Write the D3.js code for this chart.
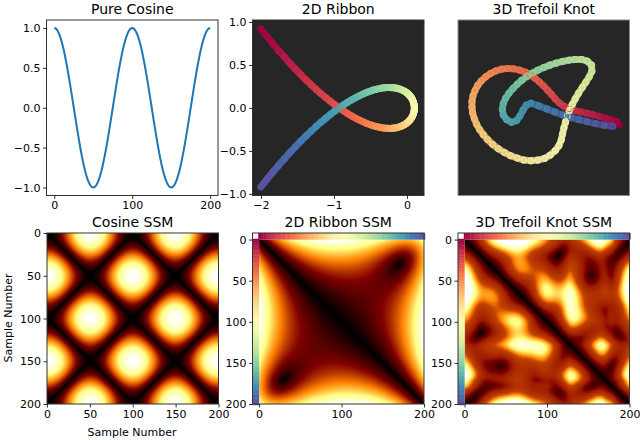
<!DOCTYPE html>
<html>
<head>
<meta charset="utf-8">
<script src="https://d3js.org/d3.v7.min.js"></script>
<style>
  html, body { margin: 0; padding: 0; background: #fff; }
  text { font-family: "DejaVu Sans", sans-serif; fill: #000; }
</style>
</head>
<body>
<div id="chart"></div>
<script>
// one reading every 2 samples, sample 0 to 200
var sampleStep = 2;

var cosineY = [1,.992,.969,.93,.876,.809,.729,.637,.536,.426,.309,.187,.063,-.063,-.187,-.309,-.426,-.536,-.637,-.729,-.809,-.876,-.93,-.969,-.992,-1,
  -.992,-.969,-.93,-.876,-.809,-.729,-.637,-.536,-.426,-.309,-.187,-.063,.063,.187,.309,.426,.536,.637,.729,.809,.876,.93,.969,.992,1,
  .992,.969,.93,.876,.809,.729,.637,.536,.426,.309,.187,.063,-.063,-.187,-.309,-.426,-.536,-.637,-.729,-.809,-.876,-.93,-.969,-.992,-1,
  -.992,-.969,-.93,-.876,-.809,-.729,-.637,-.536,-.426,-.309,-.187,-.063,.063,.187,.309,.426,.536,.637,.729,.809,.876,.93,.969,.992,1];

var ribbonX = [-2,-1.917,-1.835,-1.756,-1.677,-1.601,-1.526,-1.453,-1.382,-1.312,-1.244,-1.178,-1.113,-1.05,-.989,-.929,-.871,-.815,-.76,-.707,-.656,-.606,-.559,-.512,-.468,-.425,-.384,-.344,-.307,-.27,-.236,-.203,-.172,-.143,-.115,-.089,-.065,-.042,-.021,-.002,.016,.032,.046,.059,.07,.079,.087,.092,.097,.099,.1,
  .099,.097,.092,.087,.079,.07,.059,.046,.032,.016,-.002,-.021,-.042,-.065,-.089,-.115,-.143,-.172,-.203,-.236,-.27,-.307,-.344,-.384,-.425,-.468,-.512,-.559,-.606,-.656,-.707,-.76,-.815,-.871,-.929,-.989,-1.05,-1.113,-1.178,-1.244,-1.312,-1.382,-1.453,-1.526,-1.601,-1.677,-1.756,-1.835,-1.917,-2];
var ribbonY = [.918,.83,.746,.666,.59,.518,.45,.386,.326,.269,.216,.166,.12,.077,.037,0,-.034,-.065,-.093,-.118,-.14,-.16,-.178,-.193,-.206,-.216,-.224,-.231,-.235,-.237,-.238,-.236,-.234,-.229,-.223,-.216,-.207,-.198,-.187,-.175,-.162,-.148,-.134,-.119,-.104,-.086,-.07,-.053,-.035,-.018,0,
  .018,.035,.053,.07,.086,.104,.119,.134,.148,.162,.175,.187,.198,.207,.216,.223,.229,.234,.236,.238,.237,.235,.231,.224,.216,.206,.193,.178,.16,.14,.118,.093,.065,.034,0,-.037,-.077,-.12,-.166,-.216,-.269,-.326,-.386,-.45,-.518,-.59,-.666,-.746,-.83,-.918];

var trefoilX = [2.28,2.2,2.02,1.85,1.67,1.48,1.3,1.12,.94,.77,.61,.47,.35,.24,.12,0,-.13,-.26,-.4,-.55,-.72,-.9,-1.08,-1.26,-1.43,-1.59,-1.74,-1.87,-1.98,-2.06,-2.12,-2.15,-2.15,-2.13,-2.08,-2.01,-1.92,-1.81,-1.68,-1.53,-1.36,-1.18,-.99,-.79,-.59,-.38,-.17,.03,.2,.35,.46,.53,.57,.61,.66,.71,.78,.86,.95,1.05,1.16,1.27,1.37,1.45,1.44,1.31,1.14,.95,.76,.57,.38,.19,.01,-.17,-.34,-.5,-.65,-.79,-.92,-1.04,-1.14,-1.21,-1.24,-1.21,-1.11,-.96,-.81,-.71,-.62,-.52,-.38,-.14,.1,.34,.58,.82,1.06,1.31,1.56,1.82,2.08];
var trefoilY = [-.52,-.42,-.36,-.31,-.26,-.21,-.17,-.13,-.09,-.04,.04,.14,.26,.39,.52,.65,.77,.88,.98,1.06,1.12,1.16,1.17,1.15,1.1,1.02,.92,.8,.66,.51,.35,.18,.01,-.16,-.33,-.5,-.66,-.81,-.96,-1.1,-1.23,-1.34,-1.44,-1.51,-1.57,-1.59,-1.57,-1.52,-1.42,-1.29,-1.14,-.97,-.79,-.61,-.43,-.25,-.08,.09,.26,.43,.6,.76,.92,1.09,1.27,1.39,1.44,1.44,1.42,1.38,1.33,1.27,1.2,1.12,1.03,.93,.82,.7,.57,.43,.28,.12,-.05,-.22,-.36,-.44,-.39,-.25,-.08,.07,.13,.05,-.04,-.13,-.22,-.29,-.36,-.42,-.48,-.53,-.56];
// depth of the knot, not visible in the top panel, guessed from the SSM
var trefoilZ = [1,.98,.93,.84,.73,.59,.43,.25,.06,-.13,-.31,-.48,-.64,-.77,-.88,-.95,-.99,-1,-.97,-.91,-.81,-.69,-.54,-.37,-.19,0,.19,.37,.54,.69,.81,.91,.97,1,.99,.95,.88,.77,.64,.48,.31,.13,-.06,-.25,-.43,-.59,-.73,-.84,-.93,-.98,-1,
  -.98,-.93,-.84,-.73,-.59,-.43,-.25,-.06,.13,.31,.48,.64,.77,.88,.95,.99,1,.97,.91,.81,.69,.54,.37,.19,0,-.19,-.37,-.54,-.69,-.81,-.91,-.97,-1,-.99,-.95,-.88,-.77,-.64,-.48,-.31,-.13,.06,.25,.43,.59,.73,.84,.93,.98,1];

var ssmTicks = [0, 50, 100, 150, 200];
var sampleTicks = [0, 100, 200];

var svg = d3.select("#chart").append("svg").attr("width", 640).attr("height", 440);

var samples = d3.range(cosineY.length).map(function(i) { return i * sampleStep; });

// matplotlib afmhot
var afmhot = d3.scaleLinear()
  .domain([0, .25, .5, .75, 1])
  .range(["#000000", "#800000", "#ff8000", "#ffff80", "#ffffff"])
  .clamp(true);

function addPanel(left, right, top, bottom, title) {
  var g = svg.append("g");
  g.append("text").attr("x", (left + right) / 2).attr("y", top - 6.5)
    .attr("text-anchor", "middle").attr("font-size", 14).text(title);
  return g;
}

function addBorder(g, left, right, top, bottom, color) {
  g.append("rect").attr("x", left).attr("y", top)
    .attr("width", right - left).attr("height", bottom - top)
    .attr("fill", "none").attr("stroke", color).attr("stroke-width", 1);
}

function addAxes(g, x, y, top, bottom, left, xTicks, yTicks, xFmt, yFmt) {
  var ax = g.append("g").attr("transform", "translate(0," + bottom + ")")
    .call(d3.axisBottom(x).tickValues(xTicks).tickSize(3.5).tickPadding(2.5).tickFormat(xFmt));
  var ay = g.append("g").attr("transform", "translate(" + left + ",0)")
    .call(d3.axisLeft(y).tickValues(yTicks).tickSize(3.5).tickPadding(2.5).tickFormat(yFmt));
  [ax, ay].forEach(function(a) {
    a.select(".domain").remove();
    a.selectAll("text").attr("font-size", 11).attr("font-family", "DejaVu Sans");
    a.selectAll("line").attr("stroke-width", .8);
  });
}

// pure cosine
(function() {
  var g = addPanel(46.5, 218, 20, 195.5, "Pure Cosine");
  var x = d3.scaleLinear().domain([-10, 210]).range([46.5, 218]);
  var y = d3.scaleLinear().domain([-1.1, 1.1]).range([195.5, 20]);
  g.append("path").datum(cosineY)
    .attr("fill", "none").attr("stroke", "#1f77b4").attr("stroke-width", 2)
    .attr("d", d3.line().x(function(d, i) { return x(samples[i]); }).y(function(d) { return y(d); }).curve(d3.curveCatmullRom));
  addBorder(g, 46.5, 218, 20, 195.5, "#333");
  addAxes(g, x, y, 20, 195.5, 46.5, sampleTicks, [-1, -.5, 0, .5, 1], d3.format("d"), d3.format(".1f"));
})();

function drawCurve(g, xs, ys, x, y, ringOpacity, lineOpacity) {
  var color = function(i) { return d3.interpolateSpectral(samples[i] / 200); };
  var seg = d3.line().x(function(i) { return x(xs[i]); }).y(function(i) { return y(ys[i]); });
  var idx = d3.range(xs.length);
  g.append("g").selectAll("path").data(idx.slice(0, -1)).join("path")
    .attr("d", function(i) { return seg([i, i + 1]); })
    .attr("fill", "none").attr("stroke-width", 7).attr("stroke-linecap", "round")
    .attr("stroke-opacity", lineOpacity)
    .attr("stroke", function(i) { return color(i); });
  g.append("g").selectAll("circle").data(idx).join("circle")
    .attr("cx", function(i) { return x(xs[i]); })
    .attr("cy", function(i) { return y(ys[i]); })
    .attr("r", 2.8).attr("fill", "none").attr("stroke-width", 1.2)
    .attr("stroke-opacity", ringOpacity)
    .attr("stroke", function(i) { return color(i); });
}

// 2D ribbon
(function() {
  var g = addPanel(252.5, 424, 20, 195.5, "2D Ribbon");
  var x = d3.scaleLinear().domain([-2.115, .232]).range([252.5, 424]);
  var y = d3.scaleLinear().domain([-1.019, 1.023]).range([195.5, 20]);
  g.append("rect").attr("x", 252.5).attr("y", 20).attr("width", 171.5).attr("height", 175.5).attr("fill", "#262626");
  drawCurve(g, ribbonX, ribbonY, x, y, .6, .95);
  addBorder(g, 252.5, 424, 20, 195.5, "#333");
  addAxes(g, x, y, 20, 195.5, 252.5, [-2, -1, 0], [-1, -.5, 0, .5, 1], d3.format("d"), d3.format(".1f"));
})();

// 3D trefoil knot, no ticks
(function() {
  var g = addPanel(458, 629.5, 20, 195.5, "3D Trefoil Knot");
  var x = d3.scaleLinear().domain([-2.57, 2.58]).range([458, 629.5]);
  var y = d3.scaleLinear().domain([-2.63, 2.62]).range([195.5, 20]);
  g.append("rect").attr("x", 458).attr("y", 20).attr("width", 171.5).attr("height", 175.5).attr("fill", "#262626");
  drawCurve(g, trefoilX, trefoilY, x, y, .7, .7);
  addBorder(g, 458, 629.5, 20, 195.5, "#8a8a8a");
})();

// pairwise distances of the readings
function ssm(series) {
  return series.map(function(a) {
    return series.map(function(b) {
      return Math.sqrt(d3.sum(a, function(v, k) { return (v - b[k]) * (v - b[k]); }));
    });
  });
}

function drawHeat(g, D, tone, x, y) {
  var n = D.length;
  var canvas = document.createElement("canvas");
  canvas.width = n; canvas.height = n;
  var ctx = canvas.getContext("2d");
  D.forEach(function(row, r) {
    row.forEach(function(v, c) {
      ctx.fillStyle = afmhot(tone(v));
      ctx.fillRect(c, r, 1, 1);
    });
  });
  g.append("image").attr("href", canvas.toDataURL())
    .attr("x", x(0)).attr("y", y(0))
    .attr("width", x(200) - x(0)).attr("height", y(200) - y(0))
    .attr("preserveAspectRatio", "none");
}

function drawStrips(g, x, y, strip) {
  var step = (x(200) - x(0)) / (samples.length - 1);
  var stepY = (y(200) - y(0)) / (samples.length - 1);
  g.append("g").selectAll("rect").data(samples).join("rect")
    .attr("x", function(s) { return x(s) - step / 2; }).attr("y", y(strip))
    .attr("width", step + .4).attr("height", y(0) - y(strip))
    .attr("fill", function(s) { return d3.interpolateSpectral(s / 200); });
  g.append("g").selectAll("rect").data(samples).join("rect")
    .attr("x", x(strip)).attr("y", function(s) { return y(s) - stepY / 2; })
    .attr("width", x(0) - x(strip)).attr("height", stepY + .4)
    .attr("fill", function(s) { return d3.interpolateSpectral(s / 200); });
}

function ssmPanel(left, title, D, tone, strip) {
  var right = left + 171.5, top = 233, bottom = 404;
  var g = addPanel(left, right, top, bottom, title);
  var x = d3.scaleLinear().domain([strip, 200]).range([left, right]);
  var y = d3.scaleLinear().domain([strip, 200]).range([top, bottom]);
  drawHeat(g, D, tone, x, y);
  if (strip < 0) drawStrips(g, x, y, strip);
  addBorder(g, left, right, top, bottom, "#333");
  addAxes(g, x, y, top, bottom, left, strip < 0 ? sampleTicks : ssmTicks, ssmTicks, d3.format("d"), d3.format("d"));
  return g;
}

var cosSeries = cosineY.map(function(v) { return [v]; });
var ribSeries = ribbonX.map(function(v, i) { return [v, ribbonY[i]]; });
var treSeries = trefoilX.map(function(v, i) { return [v, trefoilY[i], trefoilZ[i]]; });

var cosD = ssm(cosSeries), ribD = ssm(ribSeries), treD = ssm(treSeries);
var ribMax = d3.max(ribD, function(row) { return d3.max(row); });

ssmPanel(47, "Cosine SSM", cosD, d3.scaleLinear().domain([0, 2]).range([0, 1]), 0);
ssmPanel(252.5, "2D Ribbon SSM", ribD, d3.scaleLinear().domain([0, ribMax]).range([0, 1]), -8);
ssmPanel(458, "3D Trefoil Knot SSM", treD, d3.scaleLinear().domain([0, 1.5, 2.6, 3.3, 4]).range([0, .3, .38, .7, 1]), -8);

svg.append("text").attr("x", 132).attr("y", 436).attr("text-anchor", "middle").attr("font-size", 11).text("Sample Number");
svg.append("text").attr("transform", "translate(12,318) rotate(-90)").attr("text-anchor", "middle").attr("font-size", 11).text("Sample Number");
</script>
</body>
</html>
